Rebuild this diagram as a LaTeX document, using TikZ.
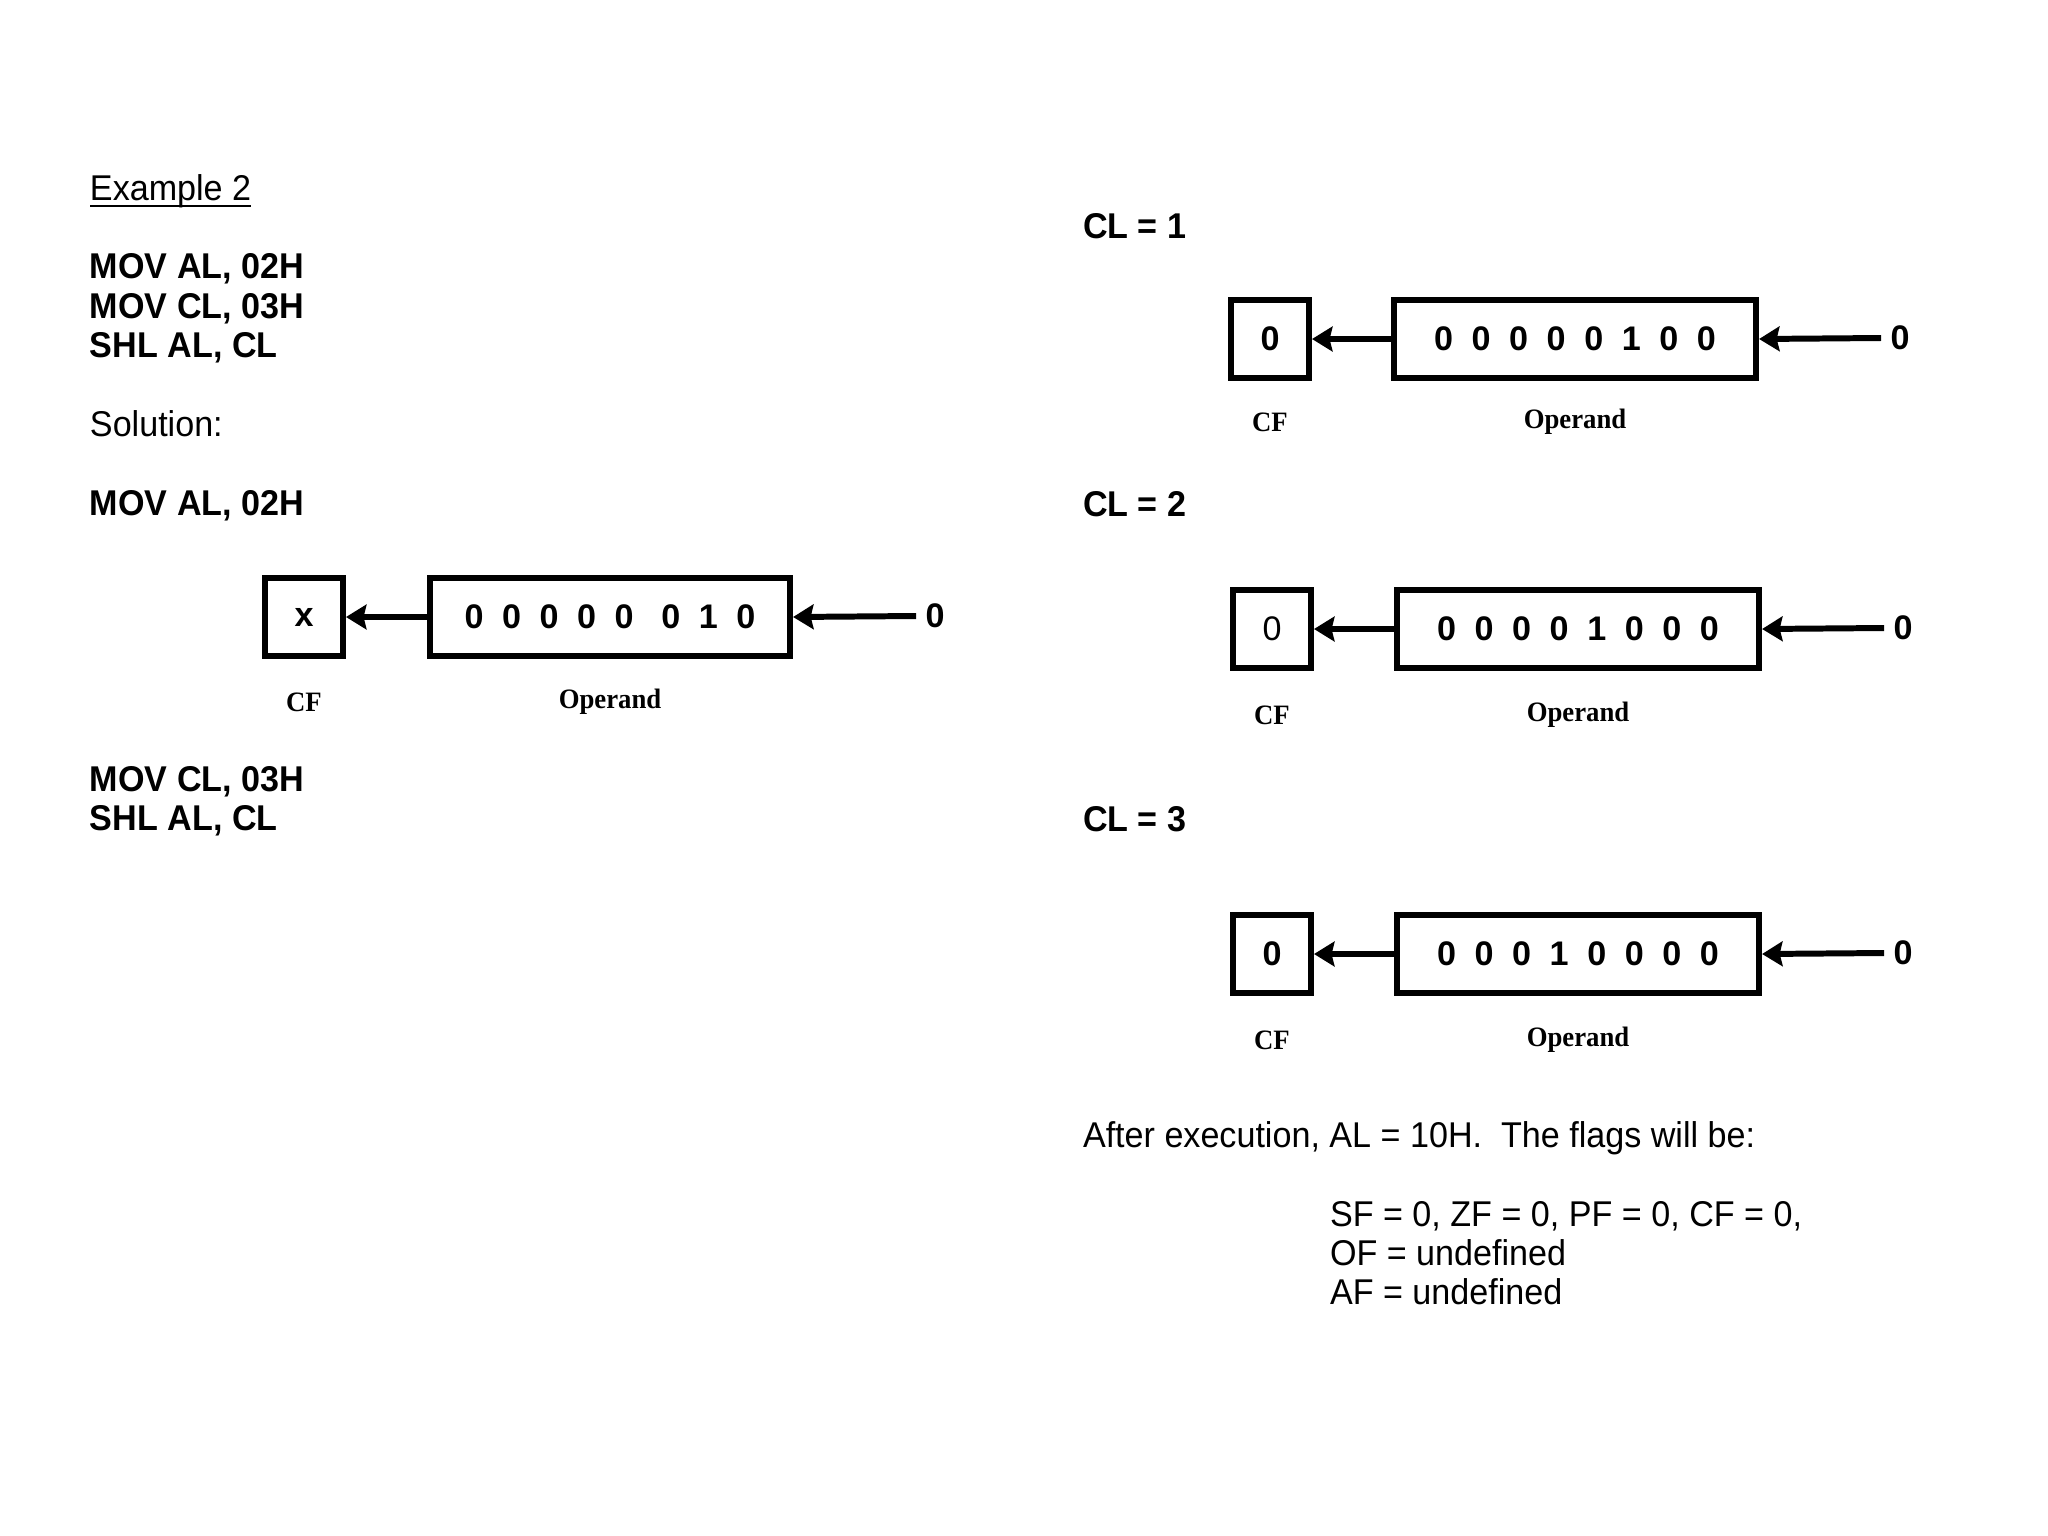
\documentclass[tikz,border=0pt]{standalone}
\usepackage{fontspec}
\setmainfont{Liberation Sans}
\newfontfamily\labfont{Liberation Serif}
\usetikzlibrary{arrows.meta}
\newcommand\bb[1]{\makebox[0.375cm]{#1}}
\begin{document}
\begin{tikzpicture}[x=0.01cm,y=-0.01cm,
  every node/.style={inner sep=0pt, outer sep=0pt},
  stretch/.style={yscale=1.05, transform shape},
  txt/.style={stretch, anchor=base west, font=\fontsize{9.7pt}{11.3pt}\selectfont},
  btxt/.style={stretch, anchor=base west, font=\fontsize{9.7pt}{11.3pt}\selectfont\bfseries},
  cfbox/.style={draw, line width=1.7pt, outer sep=0.85pt, minimum width=0.78cm, minimum height=0.78cm, font=\fontsize{9.7pt}{11.3pt}\selectfont\bfseries},
  opbox/.style={draw, line width=1.7pt, outer sep=0.85pt, minimum width=3.62cm, minimum height=0.78cm, font=\fontsize{9.7pt}{11.3pt}\selectfont\bfseries},
  zin/.style={inner xsep=2.7pt, font=\fontsize{9.7pt}{11.3pt}\selectfont\bfseries},
  lab/.style={stretch, font=\labfont\bfseries\fontsize{7.6pt}{9pt}\selectfont},
  arr/.style={line width=1.7pt, -{Stealth[length=5.8pt,width=7pt,inset=0.8pt]}},
  uline/.style={line width=0.6pt}
]
\useasboundingbox (0,0) rectangle (2048,1536);

% left column text
\node[txt] (ex) at (90,200) {Example 2};
\draw[uline] ([yshift=-1.7pt]ex.base west) -- ([yshift=-1.7pt]ex.base east);
\node[btxt] (c1) at (90,278) {MOV AL, 02H};
\node[btxt] (c2) at (90,318) {MOV CL, 03H};
\node[btxt] (c3) at (90,357) {SHL AL, CL};
\node[txt] (sol) at (90,436) {Solution:};
\node[btxt] (s1) at (90,515) {MOV AL, 02H};
\node[btxt] (s2) at (90,791) {MOV CL, 03H};
\node[btxt] (s3) at (90,830) {SHL AL, CL};

% left diagram
\node[cfbox] (cf0) at (304,617) {x};
\node[opbox, minimum width=3.60cm] (op0) at (610,617) {\bb0\bb0\bb0\bb0\bb0\hspace{0.09cm}\bb0\bb1\bb0};
\node[zin] (z0) at (935,616) {0};
\draw[arr] (op0.west) -- (cf0.east);
\draw[arr] (z0.west) -- (op0.east);
\node[lab] (cfl0) at (304,702) {CF};
\node[lab] (opl0) at (610,702) {Operand};

% CL = 1
\node[btxt] (h1) at (1083,238) {CL = 1};
\node[cfbox] (cf1) at (1270,339) {0};
\node[opbox] (op1) at (1575,339) {\bb0\bb0\bb0\bb0\bb0\bb1\bb0\bb0};
\node[zin] (z1) at (1900,338) {0};
\draw[arr] (op1.west) -- (cf1.east);
\draw[arr] (z1.west) -- (op1.east);
\node[lab] (cfl1) at (1270,422) {CF};
\node[lab] (opl1) at (1575,422) {Operand};

% CL = 2
\node[btxt] (h2) at (1083,516) {CL = 2};
\node[cfbox, font=\fontsize{9.7pt}{11.3pt}\selectfont] (cf2) at (1272,629) {0};
\node[opbox] (op2) at (1578,629) {\bb0\bb0\bb0\bb0\bb1\bb0\bb0\bb0};
\node[zin] (z2) at (1903,628) {0};
\draw[arr] (op2.west) -- (cf2.east);
\draw[arr] (z2.west) -- (op2.east);
\node[lab] (cfl2) at (1272,715) {CF};
\node[lab] (opl2) at (1578,715) {Operand};

% CL = 3
\node[btxt] (h3) at (1083,831) {CL = 3};
\node[cfbox] (cf3) at (1272,954) {0};
\node[opbox] (op3) at (1578,954) {\bb0\bb0\bb0\bb1\bb0\bb0\bb0\bb0};
\node[zin] (z3) at (1903,953) {0};
\draw[arr] (op3.west) -- (cf3.east);
\draw[arr] (z3.west) -- (op3.east);
\node[lab] (cfl3) at (1272,1040) {CF};
\node[lab] (opl3) at (1578,1040) {Operand};

% result text
\node[txt] (res) at (1083,1147) {After execution, AL = 10H.\ \ The flags will be:};
\node[txt] (f1) at (1330,1226) {SF = 0, ZF = 0, PF = 0, CF = 0,};
\node[txt] (f2) at (1330,1265) {OF = undefined};
\node[txt] (f3) at (1330,1304) {AF = undefined};
\end{tikzpicture}
\end{document}
